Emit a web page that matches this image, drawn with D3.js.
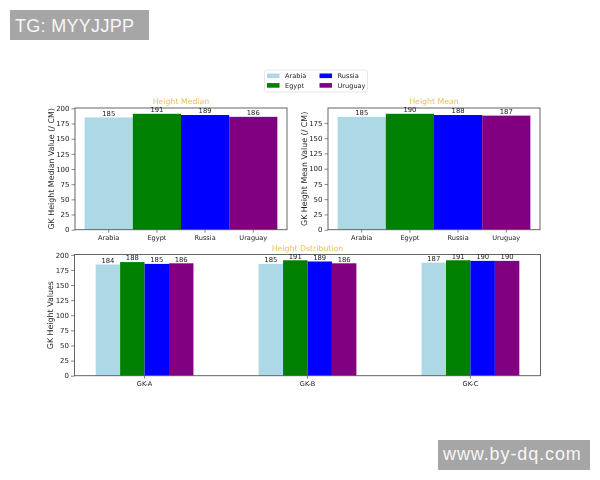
<!DOCTYPE html>
<html><head><meta charset="utf-8">
<script src="https://cdn.jsdelivr.net/npm/d3@7"></script>
<style>html,body{margin:0;padding:0;background:#fff}svg{display:block}text{font-family:"DejaVu Sans",sans-serif}</style>
</head><body><svg id="c" width="600" height="480"></svg>
<script>
const teams = ["Arabia","Egypt","Russia","Uruguay"];
const medianLabels = ["Arabia","Egypt","Russia","Uraguay"];
const meanLabels = ["Arabia","Egypt","Russia","Uruguay"];
const colors = ["#add8e6","#008000","#0000ff","#800080"];
const medianValues = [185,191,189,186];
const meanValues = [185,190,188,187];
const groups = ["GK-A","GK-B","GK-C"];
const arabiaGK = [184,185,187];
const egyptGK = [188,191,191];
const russiaGK = [185,189,190];
const uruguayGK = [186,186,190];
const yTicks = [0,25,50,75,100,125,150,175,200];

const svg = d3.select("#c");
const chart = svg.append("g").attr("filter","url(#soft)");
svg.append("defs").append("filter").attr("id","soft")
  .attr("x",0).attr("y",0).attr("width","100%").attr("height","100%")
  .attr("filterUnits","userSpaceOnUse")
  .append("feGaussianBlur").attr("stdDeviation",0.4);

const spine = "#555", titleCol = "#e8bf5e", textCol = "#222";

function frame(g, x0, x1, y0, y1, y, ylabel, title){
  const ax = d3.axisLeft(y).tickValues(yTicks.filter(t => t <= y.domain()[1])).tickSize(3.5).tickPadding(2);
  const a = g.append("g").attr("transform",`translate(${x0},0)`).call(ax);
  a.select(".domain").remove();
  a.selectAll("line").attr("stroke",spine).attr("stroke-width",0.7);
  a.selectAll("text").attr("font-size",7).attr("fill",textCol).attr("font-family","DejaVu Sans");
  g.append("rect").attr("x",x0).attr("y",y1).attr("width",x1-x0).attr("height",y0-y1)
    .attr("fill","none").attr("stroke",spine).attr("stroke-width",0.9);
  const lx = x0-21;
  g.append("text").attr("x",lx).attr("y",(y0+y1)/2).attr("font-size",7.9).attr("fill",textCol)
    .attr("text-anchor","middle")
    .attr("transform",`rotate(-90 ${lx} ${(y0+y1)/2})`).text(ylabel);
  g.append("text").attr("x",(x0+x1)/2).attr("y",y1-4).attr("font-size",7.8).attr("fill",titleCol)
    .attr("text-anchor","middle").text(title);
}

function xTicks(g, x, y0, vals, labels){
  vals.forEach((v,i)=>{
    g.append("line").attr("x1",x(v)).attr("x2",x(v)).attr("y1",y0).attr("y2",y0+3)
      .attr("stroke",spine).attr("stroke-width",0.7);
    g.append("text").attr("x",x(v)).attr("y",y0+10).attr("font-size",6.6).attr("fill",textCol)
      .attr("text-anchor","middle").text(labels[i]);
  });
}

function panel(x0, x1, values, labels, yMax, ylabel, title){
  const y0 = 229.7, y1 = 108;
  const x = d3.scaleBand().domain(teams).range([x0,x1]).paddingInner(0).paddingOuter(0.2);
  const y = d3.scaleLinear().domain([0,yMax]).range([y0,y1]);
  const g = chart.append("g");
  g.selectAll("rect.bar").data(values).join("rect").attr("class","bar")
    .attr("x",(d,i)=>x(teams[i])).attr("width",x.bandwidth())
    .attr("y",d=>y(d)).attr("height",d=>y0-y(d)).attr("fill",(d,i)=>colors[i]);
  frame(g,x0,x1,y0,y1,y,ylabel,title);
  g.selectAll("text.v").data(values).join("text").attr("class","v")
    .attr("x",(d,i)=>x(teams[i])+x.bandwidth()/2).attr("y",d=>y(d)-1.6)
    .attr("font-size",6.8).attr("fill",textCol).attr("text-anchor","middle").text(d=>d);
  xTicks(g,d=>x(d)+x.bandwidth()/2,y0,teams,labels);
}
panel(75,287,medianValues,medianLabels,200.55,"GK Height Median Value (/ CM)","Height Median");
panel(328,540,meanValues,meanLabels,199.5,"GK Height Mean Value (/ CM)","Height Mean");

// Lower grouped panel
(function(){
  const x0=74.5,x1=540.5,y0=375.7,y1=254.5;
  const x = d3.scaleLinear().domain([-0.43,2.43]).range([x0,x1]);
  const y = d3.scaleLinear().domain([0,200.55]).range([y0,y1]);
  const g = chart.append("g");
  const w = 0.15;
  [arabiaGK,egyptGK,russiaGK,uruguayGK].forEach((vals,j)=>{
    g.selectAll(`rect.s${j}`).data(vals).join("rect").attr("class",`s${j}`)
      .attr("x",(d,i)=>x(i+(j-2)*w)).attr("width",x(w)-x(0))
      .attr("y",d=>y(d)).attr("height",d=>y0-y(d)).attr("fill",colors[j]);
  });
  frame(g,x0,x1,y0,y1,y,"GK Height Values","Height Dstribution");
  [arabiaGK,egyptGK,russiaGK,uruguayGK].forEach((vals,j)=>{
    g.selectAll(`text.s${j}`).data(vals).join("text").attr("class",`s${j}`)
      .attr("x",(d,i)=>x(i+(j-2)*w+w/2)).attr("y",d=>y(d)-1.6)
      .attr("font-size",6.8).attr("fill",textCol).attr("text-anchor","middle").text(d=>d);
  });
  xTicks(g,x,y0,[0,1,2],groups);
})();

// Legend
const lg = chart.append("g");
lg.append("rect").attr("x",264.5).attr("y",70).attr("width",103).attr("height",22)
  .attr("rx",1.5).attr("fill","#fff").attr("stroke","#ddd").attr("stroke-width",0.7);
const legendCols = d3.scaleOrdinal().domain([0,1]).range([267,319.5]);
const legendRows = d3.scaleOrdinal().domain([0,1]).range([75.8,85.4]);
teams.forEach((t,i)=>{
  const c = Math.floor(i/2), r = i%2;
  lg.append("rect").attr("x",legendCols(c)).attr("y",legendRows(r)-2.3).attr("width",12.5).attr("height",4.6).attr("fill",colors[i]);
  lg.append("text").attr("x",legendCols(c)+18).attr("y",legendRows(r)+2.3).attr("font-size",6.6).attr("fill",textCol).text(t);
});

// Watermarks
svg.append("rect").attr("x",10).attr("y",10).attr("width",139).attr("height",30).attr("fill","#a6a6a6");
svg.append("text").attr("x",15).attr("y",32).attr("font-size",18).attr("fill","#f6f6f6")
  .attr("letter-spacing",0.3).style("font-family","Liberation Sans").text("TG: MYYJJPP");
svg.append("rect").attr("x",438).attr("y",440).attr("width",152).attr("height",30).attr("fill","#a6a6a6");
svg.append("text").attr("x",443).attr("y",460).attr("font-size",18).attr("fill","#f6f6f6")
  .attr("letter-spacing",0.9).style("font-family","Liberation Sans").text("www.by-dq.com");
</script></body></html>
